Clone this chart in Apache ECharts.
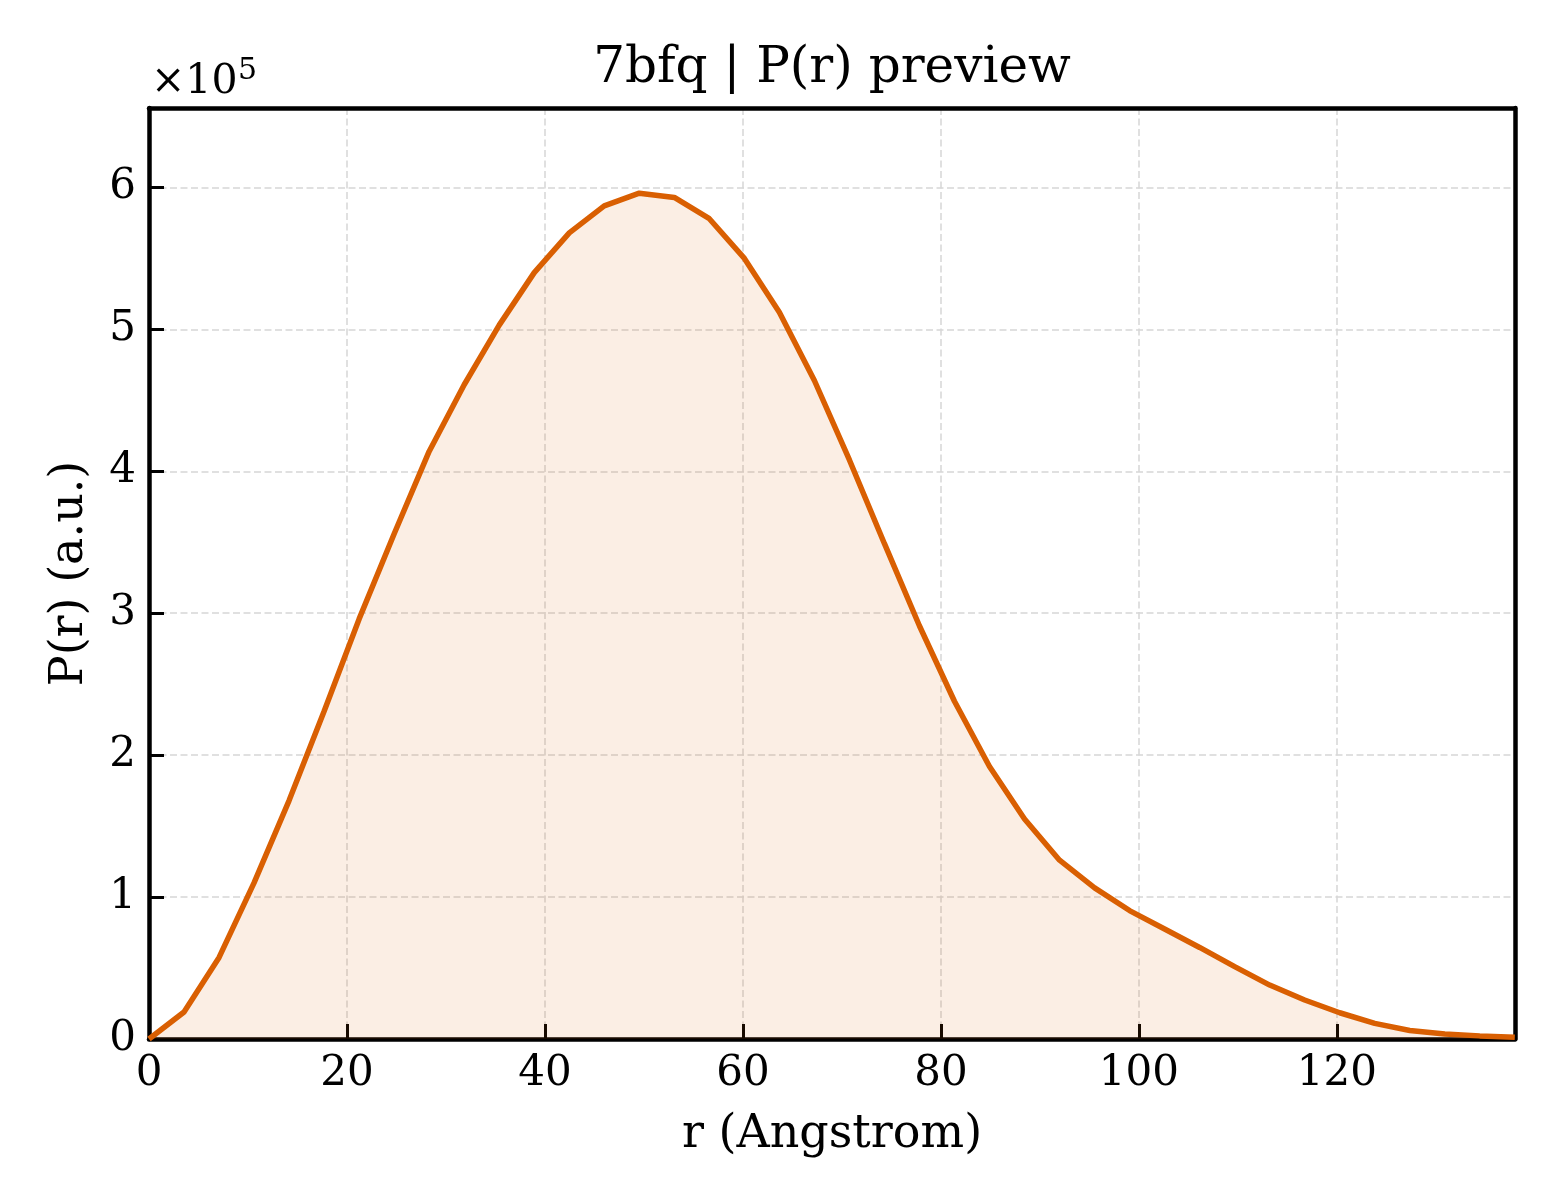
<!DOCTYPE html>
<html>
<head>
<meta charset="utf-8">
<title>7bfq | P(r) preview</title>
<script src="https://cdn.jsdelivr.net/npm/echarts@6/dist/echarts.min.js"></script>
<style>
  html, body { margin: 0; padding: 0; background: #fff; }
  #main { width: 1560px; height: 1200px; }
</style>
</head>
<body>
<div id="main"></div>
<script type="text/javascript">
var rValues = [0, 3.54, 7.08, 10.61, 14.15, 17.69, 21.23, 24.77, 28.3, 31.84,
    35.38, 38.92, 42.46, 45.99, 49.53, 53.07, 56.61, 60.15, 63.68, 67.22,
    70.76, 74.3, 77.84, 81.37, 84.91, 88.45, 91.99, 95.53, 99.06, 102.6,
    106.14, 109.68, 113.22, 116.75, 120.29, 123.83, 127.37, 130.91, 134.44, 137.98];
var prValues = [0, 19000, 57500, 110000, 168000, 231000, 296000, 356000, 414000, 461000,
    503000, 540000, 568000, 587000, 596000, 593000, 578000, 550000, 512000, 464000,
    408000, 349000, 291000, 238000, 192000, 155000, 126000, 106500, 90500, 77500,
    64500, 51000, 38000, 27500, 18500, 11000, 6000, 3500, 2200, 1200];
var xTicks = [0, 20, 40, 60, 80, 100, 120];
var yScale = 1e5;

var FONT = 'DejaVu Serif';
var myChart = echarts.init(document.getElementById('main'));

var points = [];
for (var i = 0; i < rValues.length; i++) {
    points.push([rValues[i], prValues[i]]);
}

var gridLeft = 149, gridTop = 108, gridW = 1366, gridH = 931;
function frame() {
    return { show: true, onZero: false, lineStyle: { color: '#000', width: 4.5 } };
}
var gridDash = { show: true, lineStyle: { color: '#d6d6d6', width: 1.5, type: [7, 3.5] } };
var tick = { show: true, inside: true, length: 15, lineStyle: { color: '#000', width: 3 } };

myChart.setOption({
    backgroundColor: '#fff',
    animation: false,
    grid: { left: gridLeft, top: gridTop, width: gridW, height: gridH },
    graphic: [
        {
            type: 'text', x: gridLeft + gridW / 2, y: 69,
            style: { text: '7bfq | P(r) preview', font: '50px "' + FONT + '"',
                fill: '#000', align: 'center', verticalAlign: 'middle' }
        },
        {
            type: 'text', x: 151, y: 82,
            style: { text: '×10', font: '41px "' + FONT + '"',
                fill: '#000', align: 'left', verticalAlign: 'middle' }
        },
        {
            type: 'text', x: 238, y: 71,
            style: { text: '5', font: '30px "' + FONT + '"',
                fill: '#000', align: 'left', verticalAlign: 'middle' }
        }
    ],
    xAxis: [{
        type: 'value',
        min: 0, max: 138, interval: 20,
        name: 'r (Angstrom)',
        nameLocation: 'middle',
        nameGap: 73,
        nameTextStyle: { fontFamily: FONT, fontSize: 46, color: '#000' },
        axisLine: frame(),
        axisTick: tick,
        axisLabel: {
            fontFamily: FONT, fontSize: 42, color: '#000', margin: 14,
            showMaxLabel: false,
            formatter: function (v) { return xTicks.indexOf(v) >= 0 ? String(v) : ''; }
        },
        splitLine: gridDash
    }, {
        // top edge of the frame
        type: 'value', position: 'top',
        min: 0, max: 138,
        axisLine: frame(), axisTick: { show: false },
        axisLabel: { show: false }, splitLine: { show: false }
    }],
    yAxis: [{
        type: 'value',
        min: 0, max: 656000, interval: 100000,
        name: 'P(r) (a.u.)',
        nameLocation: 'middle',
        nameGap: 56,
        nameTextStyle: { fontFamily: FONT, fontSize: 46, color: '#000' },
        axisLine: frame(),
        axisTick: tick,
        axisLabel: {
            fontFamily: FONT, fontSize: 42, color: '#000', margin: 13,
            showMaxLabel: false,
            formatter: function (v) { return String(Math.round(v / yScale)); }
        },
        splitLine: gridDash
    }, {
        // right edge of the frame
        type: 'value', position: 'right',
        min: 0, max: 656000,
        axisLine: frame(), axisTick: { show: false },
        axisLabel: { show: false }, splitLine: { show: false }
    }],
    series: [{
        name: 'P(r)',
        type: 'line',
        data: points,
        showSymbol: false,
        smooth: false,
        lineStyle: { color: '#D95F02', width: 5.5 },
        itemStyle: { color: '#D95F02' },
        areaStyle: { color: 'rgba(217,95,2,0.15)', origin: 'start' }
    }]
});
</script>
</body>
</html>
